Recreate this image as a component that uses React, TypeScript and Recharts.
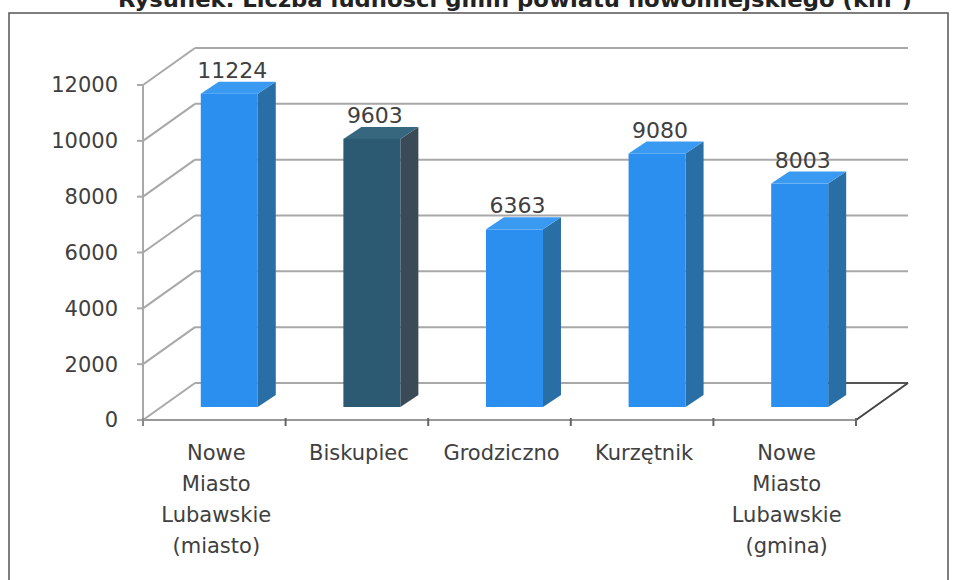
import React from "react";
import { BarChart, Bar, XAxis, YAxis, CartesianGrid, Cell, LabelList } from "recharts";

const categories = [
  "Nowe Miasto Lubawskie (miasto)",
  "Biskupiec",
  "Grodziczno",
  "Kurzętnik",
  "Nowe Miasto Lubawskie (gmina)",
];
const values = [11224, 9603, 6363, 9080, 8003];
const yTicks = [0, 2000, 4000, 6000, 8000, 10000, 12000];
const titleText = "Rysunek. Liczba ludności gmin powiatu nowomiejskiego (km²)";

const data = categories.map((name, i) => ({ name, value: values[i] }));

const FRONT = ["#2b8ff0", "#2d5a73", "#2b8ff0", "#2b8ff0", "#2b8ff0"];
const SIDE = ["#2a6ea6", "#3a4a56", "#2a6ea6", "#2a6ea6", "#2a6ea6"];
const TOP = ["#3a9af2", "#36677f", "#3a9af2", "#3a9af2", "#3a9af2"];

const FONT = "'DejaVu Sans', sans-serif";
const TEXT = "#404040";
const WEIGHT = 400;
// perspective offsets
const WALL_DX = 52;
const WALL_DY = -37;
const BAR_DX = 15;
const BAR_DY = -13;
const DEPTH_X = 18;
const DEPTH_Y = -12;

const Bar3D = (props: any) => {
  const { x, y, width, height, index } = props;
  if (height == null || width == null) return null;
  const fx = x + BAR_DX;
  const fy = y + BAR_DY;
  const w = width;
  const h = height;
  return (
    <g>
      <polygon
        points={`${fx + w},${fy} ${fx + w + DEPTH_X},${fy + DEPTH_Y} ${fx + w + DEPTH_X},${fy + h + DEPTH_Y} ${fx + w},${fy + h}`}
        fill={SIDE[index]}
      />
      <polygon
        points={`${fx},${fy} ${fx + DEPTH_X},${fy + DEPTH_Y} ${fx + w + DEPTH_X},${fy + DEPTH_Y} ${fx + w},${fy}`}
        fill={TOP[index]}
      />
      <rect x={fx} y={fy} width={w} height={h} fill={FRONT[index]} />
    </g>
  );
};

const ValueLabel = (props: any) => {
  const { x, y, width, value } = props;
  return (
    <text
      x={x + BAR_DX + width / 2 + 3}
      y={y + BAR_DY - 16}
      textAnchor="middle"
      fontFamily={FONT}
      fontWeight={WEIGHT}
      fontSize={22}
      fill={TEXT}
    >
      {value}
    </text>
  );
};

const GridLine = (props: any) => {
  const { x1, y1, x2, index } = props;
  const bx = x1 + WALL_DX;
  const by = y1 + WALL_DY;
  const isFloor = Math.abs(y1 - 420) < 1;
  return (
    <g key={`g-${index}-${y1}`}>
      <line x1={x1} y1={y1} x2={bx} y2={by} stroke="#a8a8a8" strokeWidth={2} />
      <line x1={bx} y1={by} x2={x2 + WALL_DX} y2={by} stroke="#a8a8a8" strokeWidth={2} />
      {isFloor ? (
        <>
          <line x1={x2 - 80} y1={by} x2={x2 + WALL_DX} y2={by} stroke="#555" strokeWidth={2} />
          <line x1={x2} y1={y1} x2={x2 + WALL_DX} y2={by} stroke="#444" strokeWidth={2} />
        </>
      ) : null}
    </g>
  );
};

const CategoryTick = (props: any) => {
  const { x, y, payload } = props;
  const lines = String(payload.value).split(" ");
  const half = payload.offset ?? 71;
  return (
    <g>
      <line x1={x + half} y1={y - 2} x2={x + half} y2={y + 6} stroke="#666" strokeWidth={2} />
      {payload.index === 0 ? (
        <line x1={x - half} y1={y - 2} x2={x - half} y2={y + 6} stroke="#888" strokeWidth={2} />
      ) : null}
      <text x={x + 2} y={y + 40} textAnchor="middle" fontFamily={FONT} fontWeight={WEIGHT} fontSize={21} fill={TEXT}>
        {lines.map((l, i) => (
          <tspan key={i} x={x + 2} dy={i === 0 ? 0 : 31}>
            {l}
          </tspan>
        ))}
      </text>
    </g>
  );
};

export default function App() {
  return (
    <div style={{ position: "absolute", left: 0, top: 0, width: 954, height: 580, background: "#fff" }}>
      <svg width={954} height={580} style={{ position: "absolute", left: 0, top: 0 }}>
        <rect x={9} y={13} width={939} height={600} fill="none" stroke="#555" strokeWidth={1.5} />
        <text
          x={118}
          y={7}
          fontFamily={FONT}
          fontWeight="bold"
          fontSize={22}
          fill="#222"
          textLength={794}
          lengthAdjust="spacingAndGlyphs"
        >
          {titleText}
        </text>
      </svg>
      <div style={{ position: "absolute", left: 0, top: 0 }}>
        <BarChart
          width={954}
          height={580}
          data={data}
          margin={{ top: 85, right: 98, bottom: 0, left: 83 }}
          barCategoryGap="30%"
        >
          <CartesianGrid vertical={false} horizontal={GridLine as any} />
          <XAxis
            dataKey="name"
            height={160}
            interval={0}
            tickLine={false}
            tickSize={0}
            tickMargin={0}
            axisLine={{ stroke: "#999", strokeWidth: 2 }}
            tick={<CategoryTick />}
          />
          <YAxis
            width={60}
            domain={[0, 12000]}
            ticks={yTicks}
            interval={0}
            tickSize={6}
            tickMargin={19}
            tickLine={{ stroke: "#a8a8a8", strokeWidth: 2 }}
            axisLine={{ stroke: "#a8a8a8", strokeWidth: 2 }}
            tick={{ fontFamily: FONT, fontWeight: WEIGHT, fontSize: 21, fill: TEXT }}
          />
          <Bar dataKey="value" isAnimationActive={false} shape={<Bar3D />}>
            {data.map((d, i) => (
              <Cell key={d.name} fill={FRONT[i]} />
            ))}
            <LabelList dataKey="value" content={<ValueLabel />} />
          </Bar>
        </BarChart>
      </div>
    </div>
  );
}
